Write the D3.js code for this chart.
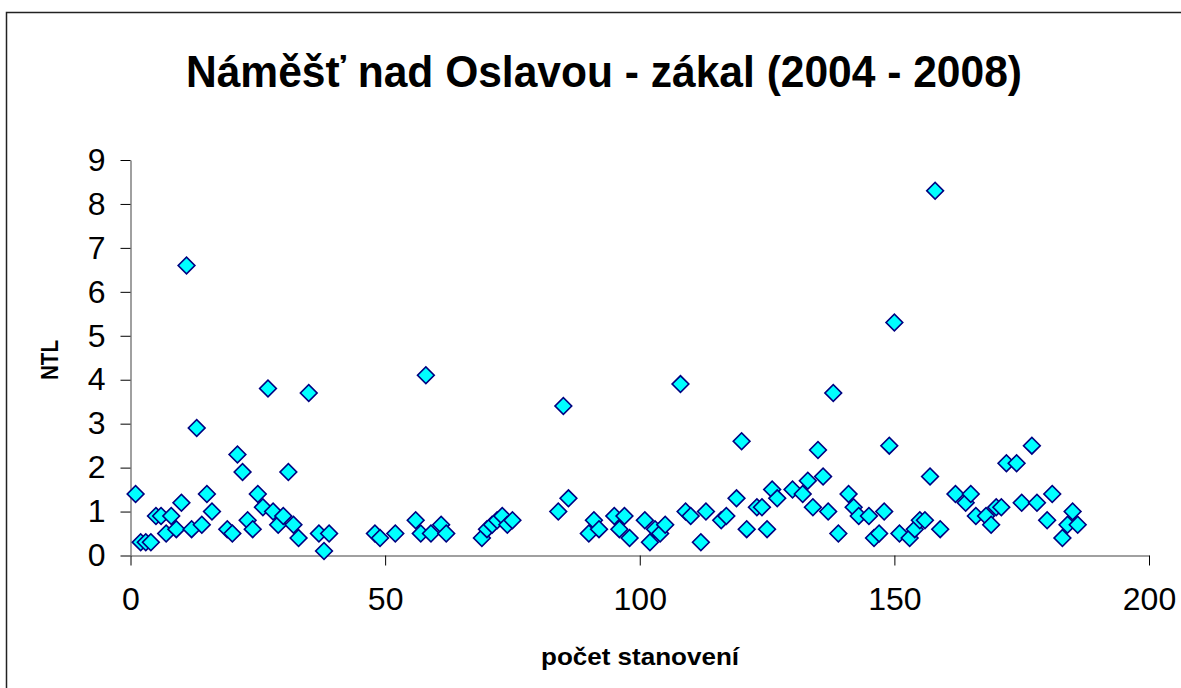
<!DOCTYPE html>
<html>
<head>
<meta charset="utf-8">
<script src="https://cdn.jsdelivr.net/npm/d3@7"></script>
<style>
  body { margin: 0; background: #fff; }
  svg { display: block; font-family: "Liberation Sans", Arial, sans-serif; }
</style>
</head>
<body>
<svg id="chart" width="1181" height="688"></svg>
<script>
var title = "Náměšť nad Oslavou - zákal (2004 - 2008)";
var xTitle = "počet stanovení";
var yTitle = "NTL";
var xTicks = [0, 50, 100, 150, 200];
var yTicks = [0, 1, 2, 3, 4, 5, 6, 7, 8, 9];

var xValues = [1,2,3,4,5,6,7,8,9,10,11,12,13,14,15,16,19,20,21,22,23,24,25,26,27,28,29,30,31,32,33,35,37,38,39,
  48,49,52,56,57,58,59,61,62,69,70,71,72,73,74,75,84,85,86,90,91,92,95,96,97,98,101,102,103,104,105,
  108,109,110,112,113,116,117,119,120,121,123,124,125,126,127,130,132,133,134,135,136,137,138,139,
  141,142,143,145,146,147,148,149,150,151,153,154,155,156,157,158,159,162,164,165,166,168,169,170,171,172,
  174,175,177,178,180,181,183,184,185,186];
var yValues = [1.4,0.3,0.3,0.3,0.9,0.9,0.5,0.9,0.6,1.2,6.6,0.6,2.9,0.7,1.4,1.0,0.6,0.5,2.3,1.9,0.8,0.6,1.4,1.1,3.8,1.0,0.7,0.9,1.9,0.7,0.4,3.7,0.5,0.1,0.5,
  0.5,0.4,0.5,0.8,0.5,4.1,0.5,0.7,0.5,0.4,0.6,0.7,0.8,0.9,0.7,0.8,1.0,3.4,1.3,0.5,0.8,0.6,0.9,0.6,0.9,0.4,0.8,0.3,0.6,0.5,0.7,
  3.9,1.0,0.9,0.3,1.0,0.8,0.9,1.3,2.6,0.6,1.1,1.1,0.6,1.5,1.3,1.5,1.4,1.7,1.1,2.4,1.8,1.0,3.7,0.5,
  1.4,1.1,0.9,0.9,0.4,0.5,1.0,2.5,5.3,0.5,0.4,0.6,0.8,0.8,1.8,8.3,0.6,1.4,1.2,1.4,0.9,0.9,0.7,1.1,1.1,2.1,
  2.1,1.2,2.5,1.2,0.8,1.4,0.4,0.7,1.0,0.7];

var points = xValues.map(function(d, i) { return {x: d, y: yValues[i]}; });

var svg = d3.select("#chart");

// outer chart frame (right/bottom edges fall outside the window)
svg.append("rect")
  .attr("x", 6.5).attr("y", 12.5)
  .attr("width", 1200).attr("height", 700)
  .attr("fill", "none")
  .attr("stroke", "#222")
  .attr("stroke-width", 1.5);

var x = d3.scaleLinear().domain([0, 200]).range([130.5, 1149]);
var y = d3.scaleLinear().domain([0, 9]).range([555.5, 160]);

// x axis
var xAxis = svg.append("g")
  .attr("transform", "translate(0,555.5)")
  .call(d3.axisBottom(x).tickValues(xTicks).tickSize(10).tickPadding(22).tickSizeOuter(0));
xAxis.select(".domain").attr("stroke", "#808080").attr("stroke-width", 1.5);
xAxis.selectAll(".tick line").attr("stroke", "#000");
xAxis.selectAll("text").attr("font-size", 32).attr("fill", "#000")
  .style("font-family", "Liberation Sans, Arial, sans-serif");

// y axis
var yAxis = svg.append("g")
  .attr("transform", "translate(130.5,0)")
  .call(d3.axisLeft(y).tickValues(yTicks).tickSize(10).tickPadding(15).tickSizeOuter(0));
yAxis.select(".domain").attr("stroke", "#808080").attr("stroke-width", 1.5);
yAxis.selectAll(".tick line").attr("stroke", "#000");
yAxis.selectAll("text").attr("font-size", 32).attr("fill", "#000")
  .style("font-family", "Liberation Sans, Arial, sans-serif");

// markers
var diamond = d3.symbol().type(d3.symbolSquare).size(140);
svg.append("g")
  .selectAll("path")
  .data(points)
  .enter()
  .append("path")
  .attr("d", diamond)
  .attr("transform", function(d) { return "translate(" + x(d.x) + "," + y(d.y) + ") rotate(45)"; })
  .attr("fill", "#00FFFF")
  .attr("stroke", "#000080")
  .attr("stroke-width", 1.6);

// titles
svg.append("text")
  .text(title)
  .attr("x", 604).attr("y", 87)
  .attr("text-anchor", "middle")
  .attr("font-size", 44)
  .attr("font-weight", "bold")
  .attr("textLength", 836)
  .attr("lengthAdjust", "spacingAndGlyphs");

svg.append("text")
  .text(xTitle)
  .attr("x", 640).attr("y", 665)
  .attr("text-anchor", "middle")
  .attr("font-size", 24)
  .attr("font-weight", "bold")
  .attr("textLength", 198)
  .attr("lengthAdjust", "spacingAndGlyphs");

svg.append("text")
  .text(yTitle)
  .attr("transform", "translate(58,360) rotate(-90)")
  .attr("text-anchor", "middle")
  .attr("font-size", 24)
  .attr("font-weight", "bold")
  .attr("textLength", 40)
  .attr("lengthAdjust", "spacingAndGlyphs");
</script>
</body>
</html>
